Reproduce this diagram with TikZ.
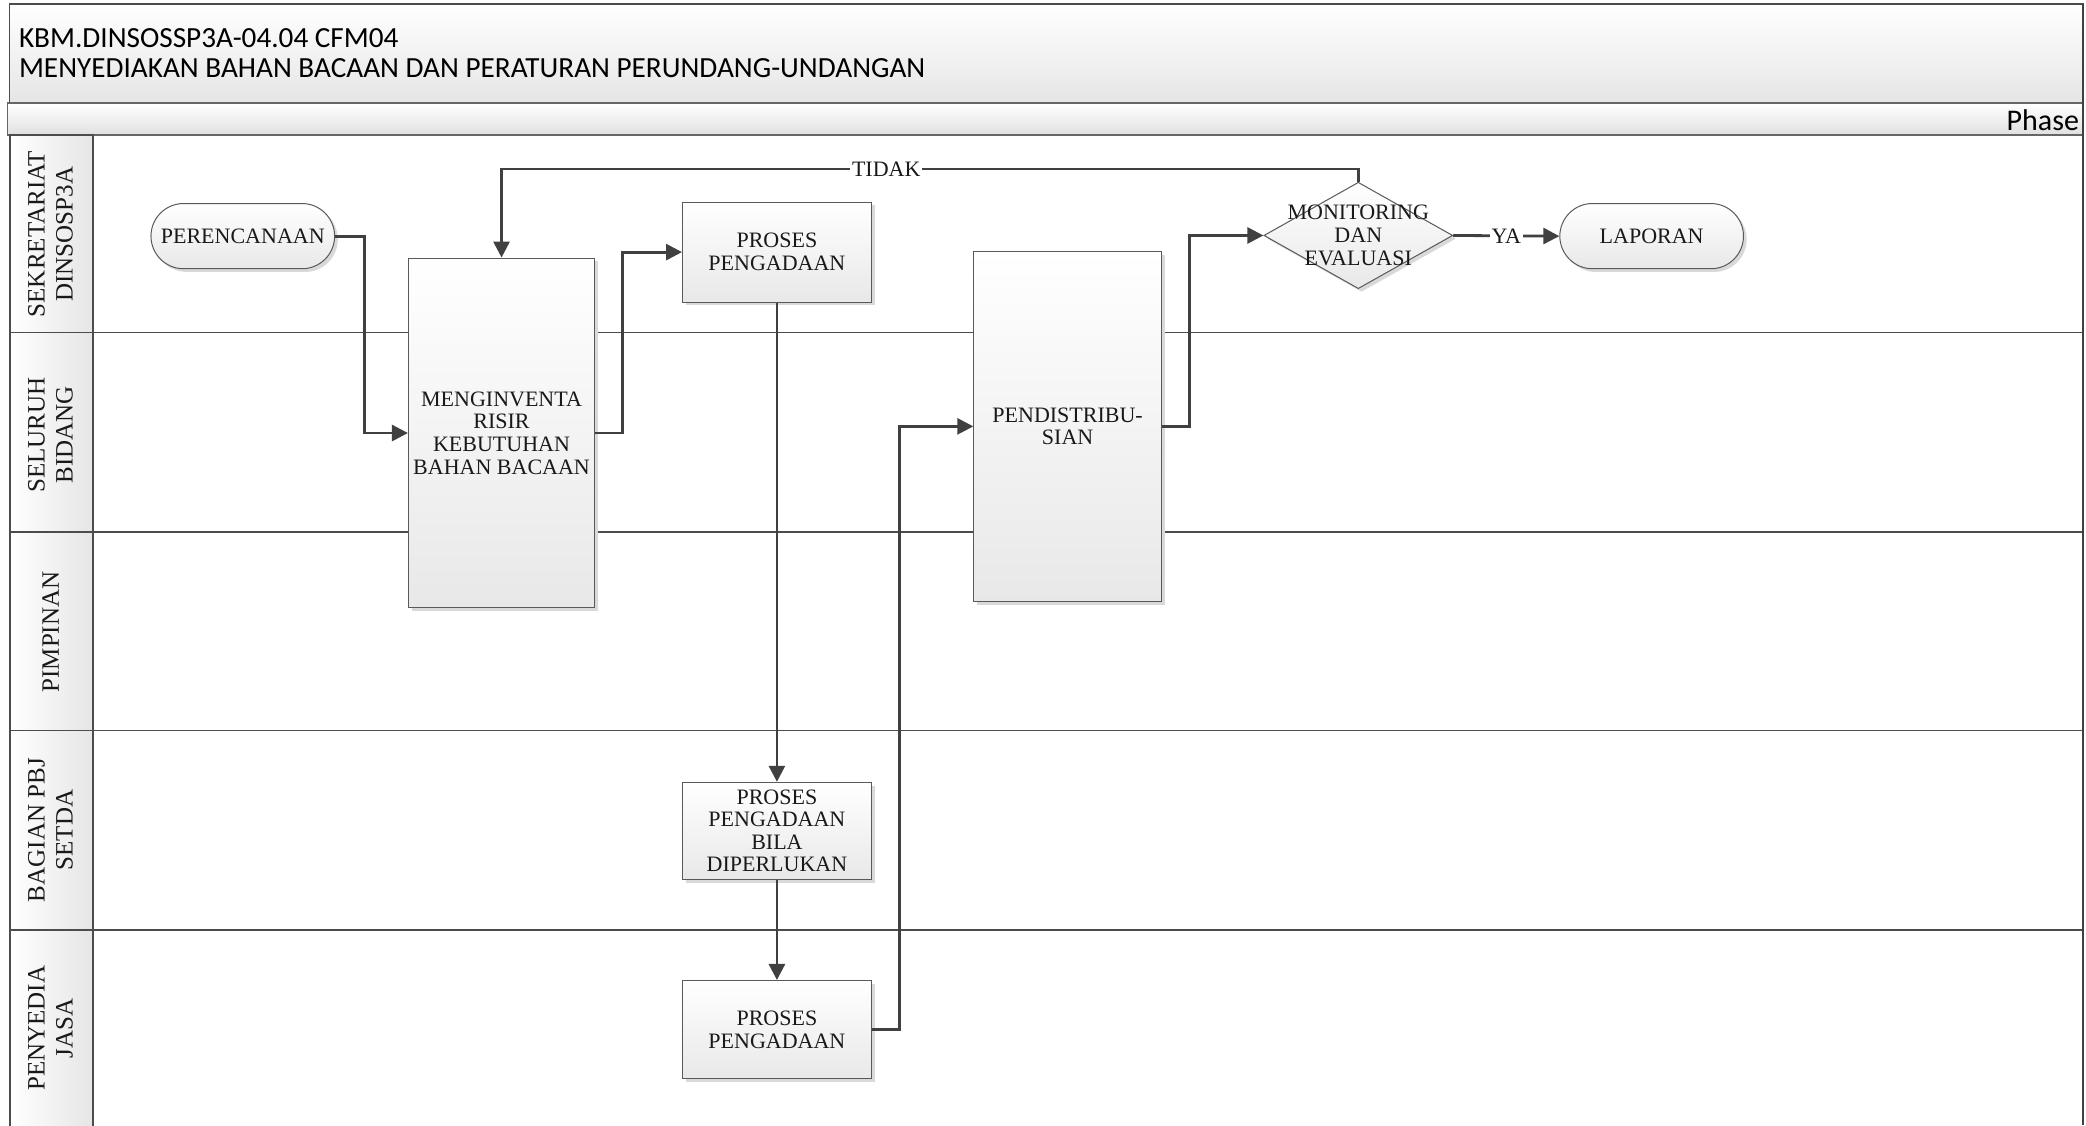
\documentclass[tikz,border=0pt]{standalone}
\usepackage{fontspec}
\setmainfont{Liberation Serif}
\newfontfamily\titlefont{Carlito}
\usetikzlibrary{arrows.meta,shapes.geometric,shapes.misc,shadows}
\begin{document}
\begin{tikzpicture}[x=0.665pt,y=-0.665pt,
  nodefont/.style={font=\fontsize{11}{11.3}\selectfont},
  boxbase/.style={draw=black!65, line width=0.5pt, top color=white, bottom color=black!9,
    drop shadow={shadow xshift=1.6pt, shadow yshift=-1.6pt, fill=black!15, opacity=1},
    align=center, inner sep=1pt, nodefont, text=black!90},
  procbox/.style={boxbase, rectangle},
  terminal/.style={boxbase, rounded rectangle, minimum width=93.8pt, minimum height=32.6pt},
  decision/.style={boxbase, diamond, minimum width=94.4pt, minimum height=53.2pt, inner sep=0pt},
  conn/.style={draw=black!75, line width=1.4pt, -{Triangle[length=8pt,width=8pt]}},
  lbl/.style={fill=white, inner sep=1pt, nodefont, text=black!90},
  lanelabel/.style={rotate=90, align=center, font=\fontsize{12.5}{14}\selectfont, text=black!90},
  laneline/.style={draw=black!70, line width=0.8pt}
]
\useasboundingbox (0,0) rectangle (1568,846);
\fill[white] (0,0) rectangle (1568,846);

% title and phase bars
\path[draw=black!70, line width=0.8pt, top color=white, bottom color=black!10] (7,3) rectangle (1566,77);
\node[anchor=west, align=left, inner sep=0pt, font=\titlefont\fontsize{14.6}{15.3}\selectfont] (title) at (14,40)
  {KBM.DINSOSSP3A-04.04 CFM04\\MENYEDIAKAN BAHAN BACAAN DAN PERATURAN PERUNDANG-UNDANGAN};
\path[draw=black!60, line width=0.6pt, top color=white, bottom color=black!12] (5.5,77.5) rectangle (1566,101.5);
\node[anchor=east, inner sep=0pt, font=\titlefont\fontsize{15}{15}\selectfont] (phase) at (1563,90) {Phase};

% lane label column
\path[draw=black!70, line width=0.8pt, left color=white, right color=black!10] (7.5,101.5) rectangle (70,848);
\foreach \yy in {250,400,549,699} {
  \draw[laneline] (7.5,\yy) -- (1566,\yy);
}
\draw[draw=black!75, line width=1.1pt] (1566,3) -- (1566,846);

\node[lanelabel] (l1) at (38,176) {SEKRETARIAT\\DINSOSP3A};
\node[lanelabel] (l2) at (38,327) {SELURUH\\BIDANG};
\node[lanelabel] (l3) at (38,475) {PIMPINAN};
\node[lanelabel] (l4) at (38,624) {BAGIAN PBJ\\SETDA};
\node[lanelabel] (l5) at (38,773) {PENYEDIA\\JASA};

% nodes
\node[terminal] (per) at (182.5,177.5) {PERENCANAAN};
\node[procbox, minimum width=93.1pt, minimum height=174.9pt] (inv) at (377,325.5)
  {MENGINVENTA\\RISIR\\KEBUTUHAN\\BAHAN BACAAN};
\node[procbox, minimum width=94.4pt, minimum height=49.9pt] (pp1) at (584,189.5) {PROSES\\PENGADAAN};
\node[procbox, minimum width=93.8pt, minimum height=174.9pt] (dist) at (802.5,320.5) {PENDISTRIBU-\\SIAN};
\node[decision, label={[align=center, nodefont, text=black!90, inner sep=0pt]center:MONITORING\\DAN\\EVALUASI}] (mon) at (1021,177) {};
\node[terminal] (lap) at (1241.5,177.5) {LAPORAN};
\node[procbox, minimum width=94.4pt, minimum height=48.5pt] (bila) at (584,624.5)
  {PROSES\\PENGADAAN\\BILA\\DIPERLUKAN};
\node[procbox, minimum width=94.4pt, minimum height=49.2pt] (pp2) at (584,774) {PROSES\\PENGADAAN};

% connectors
\draw[conn] (per.east) -- (274,177.5) |- (inv.west);
\draw[conn] (inv.east) -- (468,325.5) |- (pp1.west);
\draw[conn] (pp1.south) -- (bila.north);
\draw[conn] (bila.south) -- (pp2.north);
\draw[conn] (pp2.east) -- (676,774) |- (dist.west);
\draw[conn] (dist.east) -- (894,320.5) |- (mon.west);
\draw[conn] (mon.east) -- node[lbl] {YA} (lap.west);
\draw[conn] (mon.north) -- (1021,127) -- node[lbl, pos=0.551] {TIDAK} (377,127) -- (inv.north);
\end{tikzpicture}
\end{document}
